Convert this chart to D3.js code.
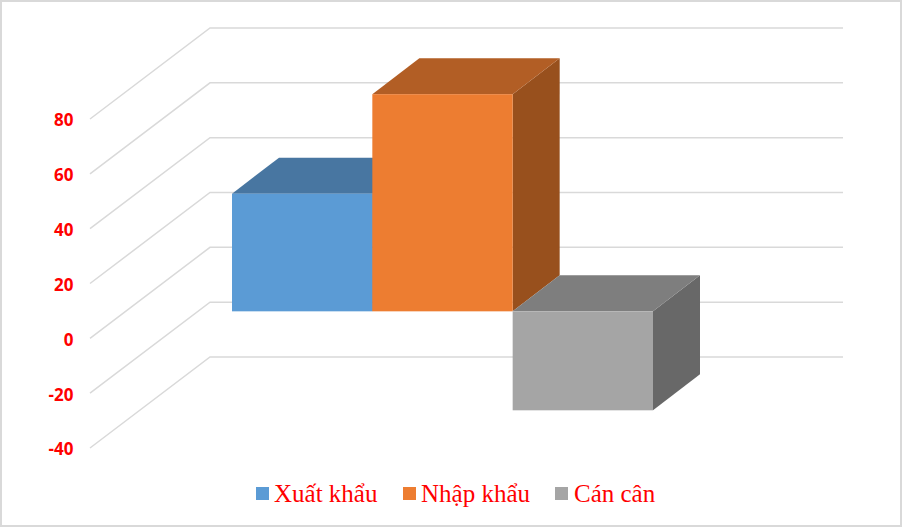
<!DOCTYPE html>
<html><head><meta charset="utf-8">
<script src="https://cdn.jsdelivr.net/npm/d3@7/dist/d3.min.js"></script>
<style>html,body{margin:0;padding:0;background:#fff;overflow:hidden}svg{display:block}</style>
</head><body><svg id="c" width="902" height="527"></svg>
<script>
const seriesNames = ["Xuất khẩu", "Nhập khẩu", "Cán cân"];
const seriesValues = [42.9, 79.2, -36.1];
const tickValues = [-40, -20, 0, 20, 40, 60, 80];
const frontColors = ["#5b9bd5", "#ed7d31", "#a5a5a5"];
const topColors = ["#4876a1", "#b25e25", "#7e7e7e"];
const sideColors = ["#3e6790", "#98501d", "#686868"];
const legendSwatchX = [256, 403, 555];
const legendTextX = [274, 421, 574];

const svg = d3.select("#c");
const W = 902, H = 527;
svg.append("rect").attr("x", 1).attr("y", 1).attr("width", W - 2).attr("height", H - 2)
  .attr("fill", "#fff").attr("stroke", "#d9d9d9").attr("stroke-width", 2);

const y = d3.scaleLinear().domain([-40, 80]).range([448, 119]);
const x = d3.scaleBand().domain(seriesNames).range([232, 653]).padding(0);
const wall = { dx: 120, dy: -91 }, plane = { dy: -27 }, depth = { dx: 47, dy: -36 };
const left = 90, right = 843;

const line = d3.line();
svg.append("g").selectAll("path").data(tickValues).join("path")
  .attr("d", v => line([[left, y(v)], [left + wall.dx, y(v) + wall.dy], [right, y(v) + wall.dy]]))
  .attr("fill", "none").attr("stroke", "#d9d9d9").attr("stroke-width", 1.5);

const axis = d3.axisLeft(y).tickValues(tickValues).tickSize(0).tickPadding(0).tickFormat(v => String(v));
const ag = svg.append("g").attr("transform", "translate(73.5,1.5)").call(axis);
ag.select(".domain").remove();
ag.selectAll("text").attr("fill", "#ff0000")
  .style("font-family", "'Open Sans'").style("font-weight", "700").style("font-size", "17px");

const bars = svg.append("g");
seriesNames.forEach((name, i) => {
  const v = seriesValues[i];
  const x0 = x(name), x1 = x0 + x.bandwidth();
  const yTop = y(Math.max(v, 0)) + plane.dy, yBot = y(Math.min(v, 0)) + plane.dy;
  const g = bars.append("g");
  g.append("path").attr("fill", sideColors[i])
    .attr("d", line([[x1, yTop], [x1 + depth.dx, yTop + depth.dy], [x1 + depth.dx, yBot + depth.dy], [x1, yBot]]) + "Z");
  g.append("path").attr("fill", topColors[i])
    .attr("d", line([[x0, yTop], [x0 + depth.dx, yTop + depth.dy], [x1 + depth.dx, yTop + depth.dy], [x1, yTop]]) + "Z");
  g.append("rect").attr("x", x0).attr("y", yTop).attr("width", x.bandwidth()).attr("height", yBot - yTop)
    .attr("fill", frontColors[i]);
});

const lg = svg.append("g");
seriesNames.forEach((name, i) => {
  lg.append("rect").attr("x", legendSwatchX[i]).attr("y", 487).attr("width", 13).attr("height", 13).attr("fill", frontColors[i]);
  lg.append("text").attr("x", legendTextX[i]).attr("y", 501.5).text(name)
    .attr("fill", "#ff0000").style("font-family", "'Liberation Serif'").style("font-size", "25px");
});
</script></body></html>
